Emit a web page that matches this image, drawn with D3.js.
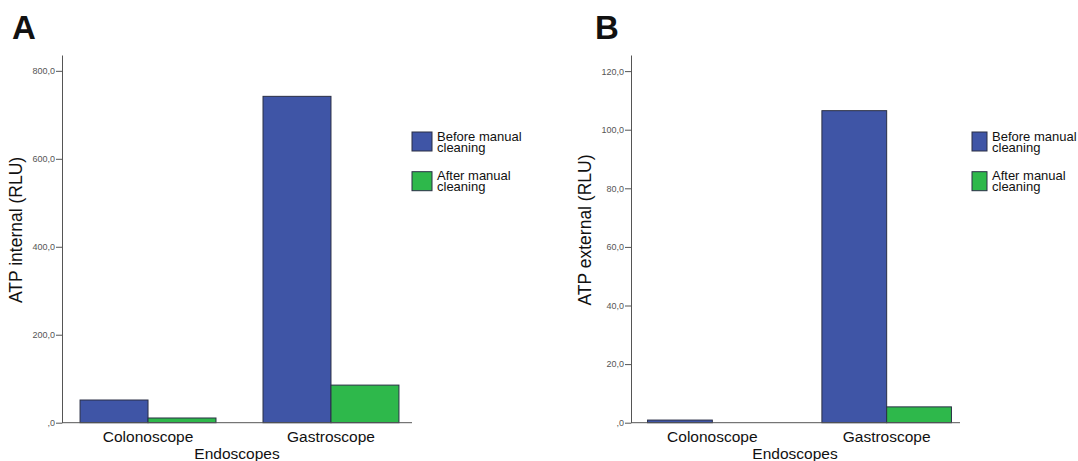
<!DOCTYPE html>
<html>
<head>
<meta charset="utf-8">
<script src="https://cdn.jsdelivr.net/npm/d3@7/dist/d3.min.js"></script>
<style>
  html, body { margin: 0; padding: 0; background: #fff; }
  svg { display: block; font-family: "Liberation Sans", Arial, sans-serif; }
</style>
</head>
<body>
<svg id="chart" width="1078" height="461"></svg>
<script>
// ---- Data ----
const categories = ["Colonoscope", "Gastroscope"];
const seriesNames = ["Before manual cleaning", "After manual cleaning"];
const legendLines = [["Before manual", "cleaning"], ["After manual", "cleaning"]];
const internalBefore = [51.6, 742.0];
const internalAfter = [10.7, 85.5];
const externalBefore = [0.9, 106.5];
const externalAfter = [0.0, 5.4];
const internalTicks = [0, 200, 400, 600, 800];
const externalTicks = [0, 20, 40, 60, 80, 100, 120];

const colors = ["#3f55a6", "#2eb84b"];

const svg = d3.select("#chart");

function fmt(d) { return d === 0 ? ",0" : d.toFixed(1).replace(".", ","); }

function panel(opts) {
  const g = svg.append("g");
  const y = d3.scaleLinear().domain([0, opts.yMax]).range([422.7, 55]);
  const x = d3.scaleBand().domain(categories).range(opts.bandRange)
    .paddingInner(0.257).paddingOuter(opts.po);
  const xs = d3.scaleBand().domain(seriesNames).range([0, x.bandwidth()]);

  // bars
  const data = categories.map((c, i) => ({c, vals: [opts.before[i], opts.after[i]]}));
  data.forEach(d => {
    d.vals.forEach((v, j) => {
      if (v <= 0) return;
      g.append("rect")
        .attr("x", x(d.c) + xs(seriesNames[j]))
        .attr("y", y(v))
        .attr("width", xs.bandwidth())
        .attr("height", y(0) - y(v))
        .attr("fill", colors[j])
        .attr("stroke", "#2a2f45")
        .attr("stroke-width", 1);
    });
  });

  // y axis
  const ya = g.append("g").attr("transform", `translate(${opts.axisX},0)`)
    .call(d3.axisLeft(y).tickValues(opts.ticks).tickFormat(fmt).tickSize(6).tickSizeOuter(0));
  ya.select(".domain").attr("stroke", "#555");
  ya.selectAll(".tick line").attr("stroke", "#555");
  ya.selectAll(".tick text").attr("fill", "#555").attr("font-size", 9)
    .attr("font-family", "Liberation Sans, Arial, sans-serif").attr("x", -7);

  // x axis line
  g.append("line").attr("x1", opts.axisX).attr("x2", opts.axisEnd)
    .attr("y1", y(0)).attr("y2", y(0)).attr("stroke", "#555");

  // category labels
  categories.forEach(c => {
    g.append("text").attr("x", x(c) + x.bandwidth() / 2).attr("y", 442)
      .attr("text-anchor", "middle").attr("font-size", 15.5).attr("fill", "#111").text(c);
  });
  g.append("text").attr("x", opts.titleX).attr("y", 458.5)
    .attr("text-anchor", "middle").attr("font-size", 15.5).attr("fill", "#111").text("Endoscopes");

  // y title
  g.append("text").attr("transform", `translate(${opts.yTitleX},230) rotate(-90)`)
    .attr("text-anchor", "middle").attr("font-size", 17.5).attr("fill", "#111").text(opts.yTitle);

  // panel letter
  g.append("text").attr("x", opts.letterX).attr("y", 39).attr("font-size", 33)
    .attr("font-weight", "bold").attr("fill", "#111").text(opts.letter);

  // legend
  seriesNames.forEach((s, j) => {
    const top = 132 + j * 39.7;
    g.append("rect").attr("x", opts.legX).attr("y", top).attr("width", opts.swW).attr("height", 19)
      .attr("fill", colors[j]).attr("stroke", "#2a2f45");
    legendLines[j].forEach((t, k) => {
      g.append("text").attr("x", opts.legX + opts.swW + 5).attr("y", top + 8.5 + k * 11)
        .attr("font-size", 13).attr("fill", "#111").text(t);
    });
  });
}

panel({
  before: internalBefore, after: internalAfter, ticks: internalTicks, yMax: 836,
  bandRange: [64.5, 414.5], po: 0.085, axisX: 62, axisEnd: 412,
  titleX: 237, yTitleX: 22, yTitle: "ATP internal (RLU)", letter: "A", letterX: 12,
  legX: 412, swW: 20
});
panel({
  before: externalBefore, after: externalAfter, ticks: externalTicks, yMax: 125.5,
  bandRange: [635, 964], po: 0.072, axisX: 631, axisEnd: 960,
  titleX: 795, yTitleX: 591, yTitle: "ATP external (RLU)", letter: "B", letterX: 595,
  legX: 972, swW: 15
});
</script>
</body>
</html>
